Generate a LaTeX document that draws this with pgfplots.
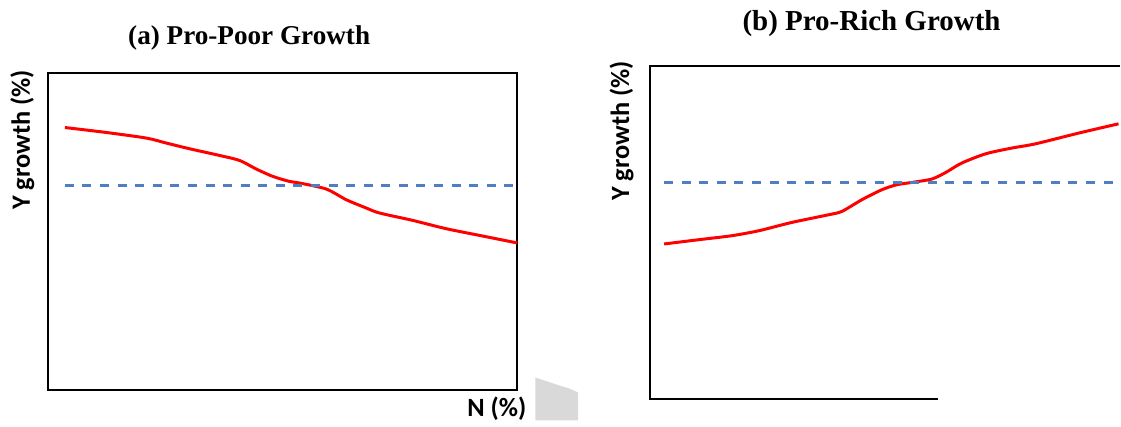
\documentclass[border=0pt]{standalone}
\usepackage{pgfplots}
\pgfplotsset{compat=1.18}
\usepackage{fontspec}
\setmainfont{Liberation Serif}
\newfontfamily\labelfont{Carlito}

\definecolor{growthred}{HTML}{FF0000}
\definecolor{baseblue}{HTML}{4F7FC0}
\definecolor{patchgray}{HTML}{D9D9D9}

% one unit = one pixel of a 1121 x 421 canvas
\pgfplotsset{
  panel/.style={
    x=0.5pt, y=0.5pt,
    scale only axis,
    anchor=south west,
    xtick=\empty, ytick=\empty,
    clip=false,
    axis line style={line width=1pt},
  },
  curve/.style={growthred, line width=1.5pt, smooth, tension=0.45, no marks},
  base/.style={baseblue, line width=1.5pt, dash pattern=on 4.5pt off 4.3pt, no marks},
}

\begin{document}
\begin{tikzpicture}
\path (0,0) rectangle (560.5pt,210.5pt);

% (a) pro-poor growth
\begin{axis}[panel, at={(24pt,15pt)},
  xmin=48, xmax=518, ymin=30, ymax=348]
\addplot[curve] coordinates {
  (65,293.3) (106.7,288.3) (146.7,282.7) (166.7,277.7) (190,272)
  (220,265.3) (240,260.3) (256.7,251.7) (273.3,244.3) (290,239.3)
  (300,237.7) (326.7,231.7) (346.7,221) (366.7,212.7) (380,207.7)
  (413.3,200.3) (446.7,192) (480,185.3) (518,177.7)};
\addplot[base] coordinates {(65,235.2) (518,235.2)};
\node[font=\bfseries\fontsize{13.6}{16}\selectfont, anchor=base]
  at (axis cs:249.5,376.7) {(a) Pro-Poor Growth};
\node[font=\labelfont\bfseries\fontsize{13.2}{15}\selectfont, anchor=base, rotate=90]
  at (axis cs:30,281) {Y growth (\%)};
\node[font=\labelfont\bfseries\fontsize{13.2}{15}\selectfont, anchor=base]
  at (axis cs:497.5,4.3) {N (\%)};
\fill[patchgray] (axis cs:536,43) -- (axis cs:548,39) -- (axis cs:560,35)
  -- (axis cs:570,32) -- (axis cs:579,28) -- (axis cs:579,0) -- (axis cs:536,0) -- cycle;
\end{axis}

% (b) pro-rich growth
\begin{axis}[panel, at={(325.5pt,10.5pt)},
  xmin=651, xmax=1121, ymin=21, ymax=355.3,
  axis line style={draw=none}]
\draw[line width=1pt] (axis cs:939,21) -- (axis cs:651,21)
  -- (axis cs:651,355.3) -- (axis cs:1121,355.3);
\addplot[curve] coordinates {
  (665,176.7) (700,181) (733,185) (760,190) (793,198.3) (830,206)
  (843,209.3) (863,221) (883,231) (898,236) (913,238.3) (933,241.7)
  (947,248.3) (963,257.7) (987,267) (1013,272.7) (1037,277)
  (1080,287.7) (1120,297)};
\addplot[base] coordinates {(665,238) (1121,238)};
\node[font=\bfseries\fontsize{14.5}{17}\selectfont, anchor=base]
  at (axis cs:872.7,390) {(b) Pro-Rich Growth};
\node[font=\labelfont\bfseries\fontsize{13.2}{15}\selectfont, anchor=base, rotate=90]
  at (axis cs:630,290) {Y growth (\%)};
\end{axis}
\end{tikzpicture}
\end{document}
